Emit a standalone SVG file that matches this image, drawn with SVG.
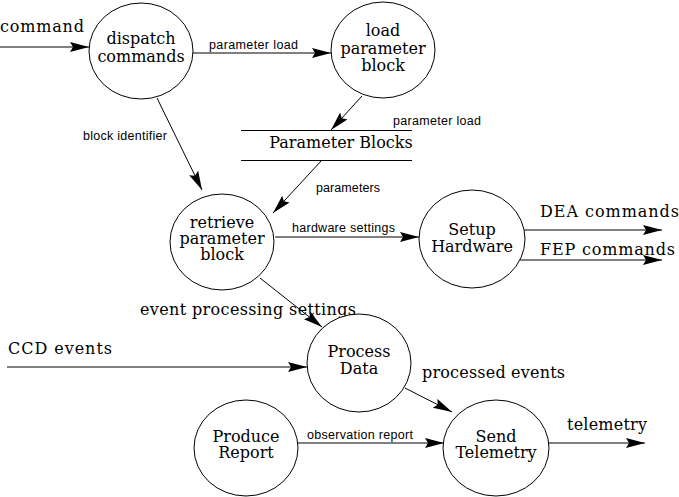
<svg xmlns="http://www.w3.org/2000/svg" width="679" height="497" viewBox="0 0 679 497">
<style>
.n{fill:#fff;stroke:#000;stroke-width:1}
.t{font-family:"DejaVu Serif","Liberation Serif",serif;font-size:16px;fill:#000;text-anchor:middle}
.el{font-family:"DejaVu Serif","Liberation Serif",serif;font-size:16px;fill:#000}
.sl{font-family:"Liberation Sans",Arial,sans-serif;font-size:12.5px;fill:#000}
.c line{stroke:#000;stroke-width:1;marker-end:url(#ah)}
.s{stroke:#000;stroke-width:1}
</style>
<defs>
<marker id="ah" markerUnits="userSpaceOnUse" markerWidth="20" markerHeight="12" refX="19" refY="5" orient="auto">
<path d="M0,0 L19,5 L0,10 L3,5 Z" fill="#000"/>
</marker>
</defs>
<g class="c" id="connectors">
<line x1="0" y1="47" x2="89" y2="47"/>
<line x1="193" y1="53" x2="331" y2="53"/>
<line x1="362" y1="96" x2="331" y2="130"/>
<line x1="157" y1="98" x2="202" y2="190"/>
<line x1="322" y1="160" x2="273" y2="213"/>
<line x1="275" y1="237" x2="419" y2="237"/>
<line x1="522" y1="230" x2="662" y2="230"/>
<line x1="520" y1="260" x2="662" y2="260"/>
<line x1="260" y1="278" x2="322" y2="327"/>
<line x1="7" y1="367" x2="307" y2="367"/>
<line x1="405" y1="388" x2="452" y2="412"/>
<line x1="298" y1="443" x2="444" y2="443"/>
<line x1="548" y1="443" x2="645" y2="443"/>
</g>
<g id="edge-labels">
<text class="el" x="0" y="32" textLength="84">command</text>
<text class="sl" x="209" y="49" textLength="89">parameter load</text>
<text class="sl" x="393" y="125" textLength="88">parameter load</text>
<text class="sl" x="83" y="140" textLength="84">block identifier</text>
<text class="sl" x="316" y="192" textLength="64">parameters</text>
<text class="sl" x="292" y="232" textLength="103">hardware settings</text>
<text class="el" x="540" y="217" textLength="139">DEA commands</text>
<text class="el" x="540" y="255" textLength="135">FEP commands</text>
<text class="el" x="140" y="315" textLength="216">event processing settings</text>
<text class="el" x="8" y="354" textLength="104">CCD events</text>
<text class="el" x="422" y="378" textLength="143">processed events</text>
<text class="sl" x="307" y="439" textLength="106">observation report</text>
<text class="el" x="567" y="430" textLength="80">telemetry</text>
</g>
<g id="dispatch">
<ellipse class="n" cx="141" cy="51" rx="52" ry="48"/>
<text class="t" x="141" y="44">dispatch</text>
<text class="t" x="141" y="62">commands</text>
</g>
<g id="load">
<ellipse class="n" cx="383" cy="50" rx="52" ry="48"/>
<text class="t" x="383" y="36">load</text>
<text class="t" x="383" y="54">parameter</text>
<text class="t" x="383" y="71">block</text>
</g>
<g id="store">
<line class="s" x1="241" y1="130.5" x2="412" y2="130.5"/>
<line class="s" x1="241" y1="160.5" x2="412" y2="160.5"/>
<text class="t" x="341" y="148">Parameter Blocks</text>
</g>
<g id="retrieve">
<ellipse class="n" cx="222" cy="242" rx="52" ry="48"/>
<text class="t" x="222" y="228">retrieve</text>
<text class="t" x="222" y="244">parameter</text>
<text class="t" x="222" y="260">block</text>
</g>
<g id="setup">
<ellipse class="n" cx="472" cy="239" rx="53" ry="49"/>
<text class="t" x="472" y="235">Setup</text>
<text class="t" x="472" y="252">Hardware</text>
</g>
<g id="process">
<ellipse class="n" cx="359" cy="363" rx="52" ry="49"/>
<text class="t" x="359" y="357">Process</text>
<text class="t" x="359" y="374">Data</text>
</g>
<g id="produce">
<ellipse class="n" cx="246" cy="448" rx="52" ry="48"/>
<text class="t" x="246" y="442">Produce</text>
<text class="t" x="246" y="458">Report</text>
</g>
<g id="send">
<ellipse class="n" cx="496" cy="448" rx="53" ry="48"/>
<text class="t" x="496" y="442">Send</text>
<text class="t" x="496" y="458">Telemetry</text>
</g>
</svg>
